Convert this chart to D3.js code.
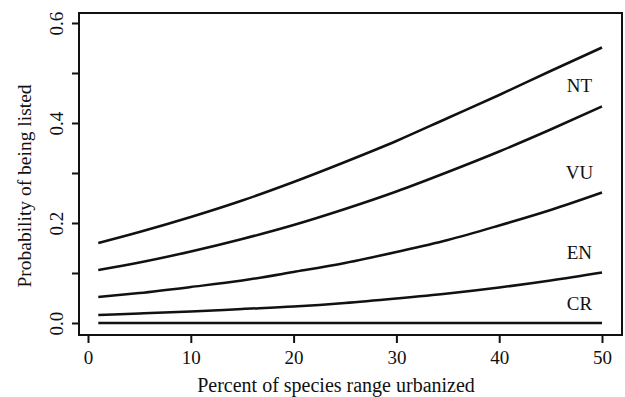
<!DOCTYPE html>
<html>
<head>
<meta charset="utf-8">
<script src="https://cdn.jsdelivr.net/npm/d3@7"></script>
<style>
body { margin: 0; background: #fff; }
text { font-family: "Liberation Serif", "Times New Roman", serif; fill: #111; }
</style>
</head>
<body>
<div id="chart"></div>
<script>
// percent of species range urbanized
var xVals = [1, 5, 10, 15, 20, 25, 30, 35, 40, 45, 50];
// probability of being listed, one array per curve (top to bottom)
var curveA = [0.160, 0.182, 0.212, 0.245, 0.282, 0.322, 0.364, 0.410, 0.456, 0.504, 0.551];
var curveB = [0.106, 0.121, 0.143, 0.168, 0.196, 0.228, 0.263, 0.302, 0.343, 0.387, 0.433];
var curveC = [0.052, 0.060, 0.072, 0.085, 0.102, 0.120, 0.142, 0.166, 0.195, 0.226, 0.261];
var curveD = [0.016, 0.019, 0.023, 0.028, 0.033, 0.040, 0.049, 0.059, 0.071, 0.085, 0.101];
var curveE = [0.000, 0.000, 0.000, 0.000, 0.000, 0.000, 0.000, 0.000, 0.000, 0.000, 0.000];
var curves = [curveA, curveB, curveC, curveD, curveE];

var categories = ["NT", "VU", "EN", "CR"];
var labelX = [47.8, 47.8, 47.8, 47.8];
var labelY = [0.476, 0.301, 0.142, 0.040];

var xTicks = [0, 10, 20, 30, 40, 50];
var yTicks = [0, 0.1, 0.2, 0.3, 0.4, 0.5, 0.6];
var yTickLabels = [0, 0.2, 0.4, 0.6];

var width = 625, height = 397;
var box = {left: 79, top: 13, right: 622, bottom: 335};

var svg = d3.select("#chart").append("svg")
	.attr("width", width)
	.attr("height", height);

var x = d3.scaleLinear().domain([0, 50]).range([88, 602]);
var y = d3.scaleLinear().domain([0, 0.6]).range([323, 23]);

// plot box
svg.append("rect")
	.attr("x", box.left)
	.attr("y", box.top)
	.attr("width", box.right - box.left)
	.attr("height", box.bottom - box.top)
	.attr("fill", "none")
	.attr("stroke", "#111")
	.attr("stroke-width", 2);

// x axis
var xAxis = svg.append("g")
	.attr("transform", "translate(0," + box.bottom + ")")
	.call(d3.axisBottom(x).tickValues(xTicks).tickSize(8).tickPadding(8).tickFormat(d3.format("d")));
xAxis.select(".domain").remove();
xAxis.selectAll("line").attr("stroke", "#111").attr("stroke-width", 2);
xAxis.selectAll("text").attr("font-size", 19).attr("font-family", "Liberation Serif").attr("fill", "#111");

// y axis
var yAxis = svg.append("g")
	.attr("transform", "translate(" + box.left + ",0)")
	.call(d3.axisLeft(y).tickValues(yTicks).tickSize(7).tickFormat(function(d) {
		return yTickLabels.some(function(v) { return Math.abs(v - d) < 1e-9; }) ? d3.format(".1f")(d) : "";
	}));
yAxis.select(".domain").remove();
yAxis.selectAll("line").attr("stroke", "#111").attr("stroke-width", 2);
yAxis.selectAll("text")
	.attr("font-size", 19)
	.attr("font-family", "Liberation Serif")
	.attr("fill", "#111")
	.attr("text-anchor", "middle")
	.attr("x", 0)
	.attr("dy", 0)
	.attr("transform", "translate(-16,0) rotate(-90)");

// curves
var line = d3.line()
	.x(function(d, i) { return x(xVals[i]); })
	.y(function(d) { return y(d); })
	.curve(d3.curveMonotoneX);

svg.selectAll("path.curve")
	.data(curves)
	.enter().append("path")
		.attr("class", "curve")
		.attr("d", line)
		.attr("fill", "none")
		.attr("stroke", "#111")
		.attr("stroke-width", 2.5);

// category labels
svg.selectAll("text.cat")
	.data(categories)
	.enter().append("text")
		.attr("class", "cat")
		.attr("x", function(d, i) { return x(labelX[i]); })
		.attr("y", function(d, i) { return y(labelY[i]); })
		.attr("dy", "0.35em")
		.attr("text-anchor", "middle")
		.attr("font-size", 19)
		.text(function(d) { return d; });

// axis titles
svg.append("text")
	.attr("x", 336)
	.attr("y", 392)
	.attr("text-anchor", "middle")
	.attr("font-size", 20)
	.text("Percent of species range urbanized");

svg.append("text")
	.attr("transform", "translate(31,186) rotate(-90)")
	.attr("text-anchor", "middle")
	.attr("font-size", 19.5)
	.text("Probability of being listed");
</script>
</body>
</html>
